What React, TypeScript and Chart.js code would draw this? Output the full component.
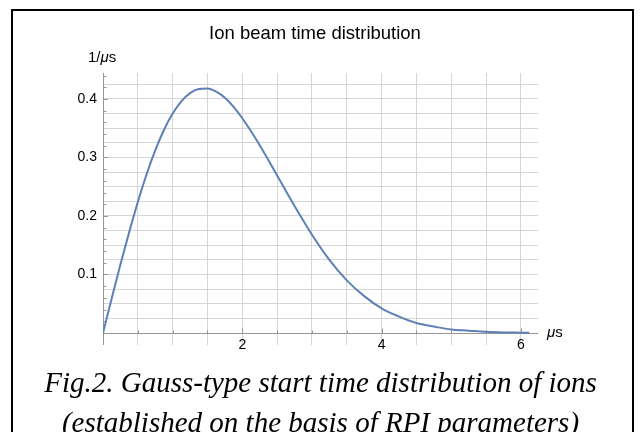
import React, { useEffect, useRef } from "react";
import { Chart, registerables } from "chart.js";

Chart.register(...registerables);

// ---- data ----
const timeUs = [0, 0.125, 0.25, 0.375, 0.5, 0.625, 0.75, 0.875, 1.0, 1.125, 1.25, 1.375, 1.5, 1.625, 1.75, 1.875, 2.0, 2.25, 2.5, 2.75, 3.0, 3.25, 3.5, 3.75, 4.0, 4.25, 4.5, 4.75, 5.0, 5.25, 5.5, 5.75, 6.0, 6.12];
const density = [0, 0.059, 0.117, 0.172, 0.224, 0.271, 0.312, 0.347, 0.375, 0.396, 0.41, 0.417, 0.418, 0.4125, 0.402, 0.3865, 0.367, 0.321, 0.269, 0.217, 0.168, 0.125, 0.09, 0.063, 0.042, 0.028, 0.017, 0.011, 0.006, 0.004, 0.002, 0.001, 0.0006, 0.0004];

// ---- axes / ticks ----
const xGridValues = [0, 0.5, 1, 1.5, 2, 2.5, 3, 3.5, 4, 4.5, 5, 5.5, 6];
const xTickLabels = [2, 4, 6];
const yGridValues = [0, 0.025, 0.05, 0.075, 0.1, 0.125, 0.15, 0.175, 0.2, 0.225, 0.25, 0.275, 0.3, 0.325, 0.35, 0.375, 0.4, 0.425];
const yTickLabels = [0.1, 0.2, 0.3, 0.4];
const yTickMarks = [0.02, 0.04, 0.06, 0.08, 0.1, 0.12, 0.14, 0.16, 0.18, 0.2, 0.22, 0.24, 0.26, 0.28, 0.3, 0.32, 0.34, 0.36, 0.38, 0.4, 0.42, 0.44];
const xMin = 0;
const xMax = 6.245;
const yMin = -0.0205;
const yMax = 0.4444;

const titleText = "Ion beam time distribution";
const captionLine1 = "Fig.2. Gauss-type start time distribution of ions";
const captionLine2 = "(established on the basis of RPI parameters)";

const GRID = "#d6d6d6";
const AXIS = "#959595";
const CURVE = "#5e81b5";

const axesPlugin = {
  id: "mmaAxes",
  beforeDatasetsDraw(chart: any) {
    const { ctx, chartArea, scales } = chart;
    const xs = scales.x;
    const ys = scales.y;
    const x0 = Math.round(xs.getPixelForValue(0)) + 0.5;
    const y0 = Math.round(ys.getPixelForValue(0)) + 0.5;
    ctx.save();
    ctx.strokeStyle = AXIS;
    ctx.lineWidth = 1;
    ctx.beginPath();
    ctx.moveTo(chartArea.left, y0);
    ctx.lineTo(chartArea.right, y0);
    ctx.moveTo(x0, chartArea.top);
    ctx.lineTo(x0, chartArea.bottom);
    xGridValues.forEach((v) => {
      if (v === 0) return;
      const px = Math.round(xs.getPixelForValue(v)) + 0.5;
      const len = xTickLabels.includes(v) ? 5 : 3;
      ctx.moveTo(px, y0);
      ctx.lineTo(px, y0 - len);
    });
    yTickMarks.forEach((v) => {
      const py = Math.round(ys.getPixelForValue(v)) + 0.5;
      const len = yTickLabels.includes(v) ? 4.5 : 3;
      ctx.moveTo(x0, py);
      ctx.lineTo(x0 + len, py);
    });
    ctx.stroke();
    ctx.restore();
  },
};

export default function App() {
  const canvasRef = useRef<HTMLCanvasElement | null>(null);

  useEffect(() => {
    if (!canvasRef.current) return;
    const chart = new Chart(canvasRef.current, {
      type: "line",
      data: {
        datasets: [
          {
            data: timeUs.map((t, i) => ({ x: t, y: density[i] })),
            borderColor: CURVE,
            borderWidth: 2,
            pointRadius: 0,
            fill: false,
            cubicInterpolationMode: "monotone",
          },
        ],
      },
      options: {
        animation: false,
        responsive: false,
        layout: { padding: { top: 73, right: 103, bottom: 87, left: 0 } },
        plugins: {
          legend: { display: false },
          title: { display: false },
          tooltip: { enabled: false },
        },
        scales: {
          x: {
            type: "linear",
            min: xMin,
            max: xMax,
            position: { y: 0 } as any,
            afterBuildTicks: (s: any) => {
              s.ticks = xGridValues.map((v) => ({ value: v }));
            },
            grid: { color: GRID, lineWidth: 1, drawTicks: false },
            border: { display: false },
            ticks: {
              padding: 4,
              autoSkip: false,
              maxRotation: 0,
              color: "#000",
              font: { family: "'Liberation Sans', Arial, sans-serif", size: 14 },
              callback: (v: any) => (xTickLabels.includes(v) ? String(v) : ""),
            },
          },
          y: {
            type: "linear",
            min: yMin,
            max: yMax,
            position: "left",
            afterFit: (s: any) => {
              s.width = 103;
            },
            afterBuildTicks: (s: any) => {
              s.ticks = yGridValues.map((v) => ({ value: v }));
            },
            grid: { color: GRID, lineWidth: 1, drawTicks: false },
            border: { display: false },
            ticks: {
              padding: 6,
              autoSkip: false,
              color: "#000",
              font: { family: "'Liberation Sans', Arial, sans-serif", size: 14 },
              callback: (v: any) => (yTickLabels.includes(v) ? String(v) : ""),
            },
          },
        },
      },
      plugins: [axesPlugin],
    });
    return () => chart.destroy();
  }, []);

  const sans = "'Liberation Sans', Arial, sans-serif";
  const serif = "'Liberation Serif', 'Times New Roman', serif";
  return (
    <div
      style={{
        position: "fixed",
        left: 0,
        top: 0,
        width: 641,
        height: 432,
        overflow: "hidden",
        background: "#fff",
      }}
    >
      <div
        style={{
          position: "absolute",
          left: 11,
          top: 9,
          width: 623,
          height: 460,
          border: "2px solid #000",
          boxSizing: "border-box",
        }}
      />
      <canvas
        ref={canvasRef}
        width={641}
        height={432}
        style={{ position: "absolute", left: 0, top: 0, width: 641, height: 432 }}
      />
      <div
        style={{
          position: "absolute",
          left: 115,
          width: 400,
          top: 23,
          textAlign: "center",
          fontFamily: sans,
          fontSize: 18.5,
          lineHeight: "19px",
          color: "#000",
          whiteSpace: "nowrap",
        }}
      >
        {titleText}
      </div>
      <div
        style={{
          position: "absolute",
          left: 88,
          top: 49,
          fontFamily: sans,
          fontSize: 15,
          lineHeight: "15px",
          color: "#000",
          whiteSpace: "nowrap",
        }}
      >
        1/<i>μ</i>s
      </div>
      <div
        style={{
          position: "absolute",
          left: 547,
          top: 324,
          fontFamily: sans,
          fontSize: 15,
          lineHeight: "15px",
          color: "#000",
          whiteSpace: "nowrap",
        }}
      >
        <i>μ</i>s
      </div>
      <div
        style={{
          position: "absolute",
          left: 0,
          width: 641,
          top: 364,
          textAlign: "center",
          fontFamily: serif,
          fontStyle: "italic",
          fontSize: 29,
          lineHeight: "36px",
          color: "#000",
          whiteSpace: "nowrap",
        }}
      >
        {captionLine1}
      </div>
      <div
        style={{
          position: "absolute",
          left: 0,
          width: 641,
          top: 404,
          textAlign: "center",
          fontFamily: serif,
          fontStyle: "italic",
          fontSize: 29,
          lineHeight: "36px",
          color: "#000",
          whiteSpace: "nowrap",
        }}
      >
        {captionLine2}
      </div>
    </div>
  );
}
